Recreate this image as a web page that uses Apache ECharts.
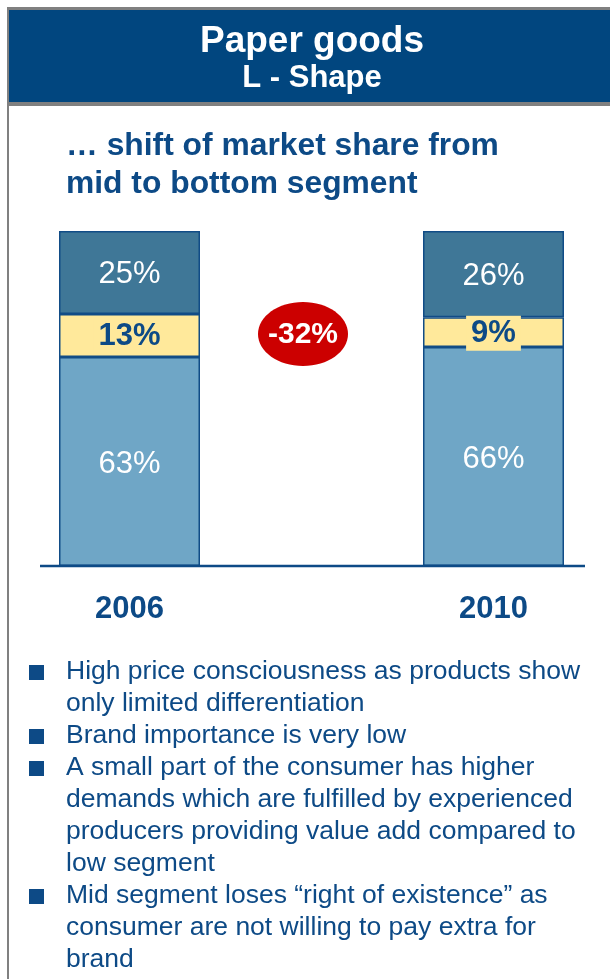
<!DOCTYPE html>
<html>
<head>
<meta charset="utf-8">
<script src="https://cdn.jsdelivr.net/npm/echarts@6/dist/echarts.min.js"></script>
<style>
html,body{margin:0;padding:0;background:#fff;}
#chart{width:610px;height:979px;}
</style>
</head>
<body>
<div id="chart"></div>
<script>
// ---- data ----
var years = ['2006', '2010'];
var lowSegment = [63, 66];
var midSegment = [13, 9];
var topSegment = [25, 26];
var changeLabel = '-32%';
var titleLines = ['Paper goods', 'L - Shape'];
var subtitleLines = ['\u2026 shift of market share from', 'mid to bottom segment'];
var bullets = [
  'High price consciousness as products show\nonly limited differentiation',
  'Brand importance is very low',
  'A small part of the consumer has higher\ndemands which are fulfilled by experienced\nproducers providing value add compared to\nlow segment',
  'Mid segment loses \u201cright of existence\u201d as\nconsumer are not willing to pay extra for\nbrand'
];

// ---- styles ----
var FONT = '"Liberation Sans", Arial, sans-serif';
var NAVY = '#0D4A86';
var HEADER = '#01467F';
var DARK = '#3F7797';
var YELLOW = '#FFE99B';
var LIGHT = '#6FA6C6';
var BORDER = '#114C86';

var chart = echarts.init(document.getElementById('chart'), null, {renderer: 'canvas'});

var graphics = [
  {type: 'rect', shape: {x: 7, y: 7, width: 603, height: 99}, style: {fill: '#808080'}, z: 0},
  {type: 'rect', shape: {x: 9, y: 10, width: 601, height: 92}, style: {fill: HEADER}, z: 1},
  {type: 'rect', shape: {x: 7, y: 106, width: 2, height: 873}, style: {fill: '#808080'}, z: 1},
  {type: 'text', x: 312, y: 42, style: {text: titleLines[0], fill: '#fff', font: 'bold 37px ' + FONT, textAlign: 'center', textVerticalAlign: 'middle'}, z: 2},
  {type: 'text', x: 312, y: 78, style: {text: titleLines[1], fill: '#fff', font: 'bold 31px ' + FONT, textAlign: 'center', textVerticalAlign: 'middle'}, z: 2},
  {type: 'text', x: 66, y: 146, style: {text: subtitleLines[0], fill: NAVY, font: 'bold 31.8px ' + FONT, textAlign: 'left', textVerticalAlign: 'middle'}, z: 2},
  {type: 'text', x: 66, y: 184, style: {text: subtitleLines[1], fill: NAVY, font: 'bold 31.8px ' + FONT, textAlign: 'left', textVerticalAlign: 'middle'}, z: 2},
  {type: 'line', shape: {x1: 40, y1: 566, x2: 585, y2: 566}, style: {stroke: NAVY, lineWidth: 2.5}, z: 5},
  {type: 'ellipse', shape: {cx: 303, cy: 334, rx: 45, ry: 32}, style: {fill: '#CC0000'}, z: 5},
  {type: 'text', x: 303, y: 335, style: {text: changeLabel, fill: '#fff', font: 'bold 30px ' + FONT, textAlign: 'center', textVerticalAlign: 'middle'}, z: 6}
];

var lineH = 32;
var y0 = 672;
var li = 0;
bullets.forEach(function (b) {
  var lines = b.split('\n');
  var cy = y0 + li * lineH;
  graphics.push({type: 'rect', shape: {x: 29, y: cy - 7, width: 15, height: 15}, style: {fill: NAVY}, z: 2});
  lines.forEach(function (ln, k) {
    graphics.push({type: 'text', x: 66, y: y0 + (li + k) * lineH, style: {text: ln, fill: NAVY, font: '26.5px ' + FONT, textAlign: 'left', textVerticalAlign: 'middle'}, z: 2});
  });
  li += lines.length;
});

function seg(name, data, color, label) {
  return {
    name: name, type: 'bar', stack: 'share', data: data, barWidth: 141, clip: false,
    itemStyle: {color: color, borderColor: BORDER, borderWidth: 1.5},
    label: label,
    emphasis: {disabled: true}
  };
}

chart.setOption({
  animation: false,
  backgroundColor: '#fff',
  textStyle: {fontFamily: FONT},
  grid: {left: 129.5, right: 116.5, top: 231, bottom: 413, containLabel: false},
  xAxis: {
    type: 'category', data: years, boundaryGap: false,
    axisLine: {show: false}, axisTick: {show: false}, splitLine: {show: false},
    axisLabel: {color: NAVY, fontWeight: 'bold', fontSize: 31, fontFamily: FONT, margin: 28}
  },
  yAxis: {type: 'value', min: 0, max: 101, show: false},
  series: [
    seg('Low', lowSegment, LIGHT, {show: true, position: 'inside', offset: [0, 3], color: '#fff', fontSize: 31, fontFamily: FONT, formatter: '{c}%'}),
    seg('Mid', midSegment, YELLOW, {show: true, position: 'inside', offset: [0, 1], color: NAVY, fontWeight: 'bold', fontSize: 31, fontFamily: FONT, formatter: '{c}%', backgroundColor: YELLOW, padding: [3, 5, 1, 5]}),
    seg('Top', topSegment, DARK, {show: true, position: 'inside', offset: [0, 2], color: '#fff', fontSize: 31, fontFamily: FONT, formatter: '{c}%'})
  ],
  graphic: graphics
});
</script>
</body>
</html>
